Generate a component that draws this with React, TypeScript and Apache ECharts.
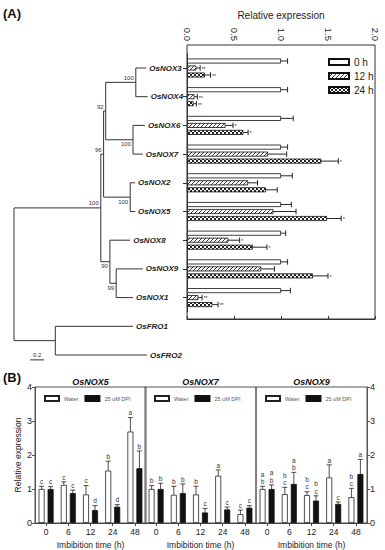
import React, { useEffect, useRef } from 'react';
import * as echarts from 'echarts';

const FONT = 'Arial, "Liberation Sans", sans-serif';

// ---------- Panel A: expression data ----------
const genes = ['OsNOX3', 'OsNOX4', 'OsNOX6', 'OsNOX7', 'OsNOX2', 'OsNOX5', 'OsNOX8', 'OsNOX9', 'OsNOX1'];
const expr0h = [1, 1, 1, 1, 1, 1, 1, 1, 1];
const err0h = [0.07, 0.07, 0.13, 0.07, 0.12, 0.11, 0.05, 0.07, 0.1];
const expr12h = [0.1, 0.08, 0.41, 0.86, 0.65, 0.92, 0.44, 0.79, 0.12];
const err12h = [0.04, 0.03, 0.08, 0.2, 0.1, 0.24, 0.12, 0.14, 0.04];
const expr24h = [0.19, 0.07, 0.6, 1.43, 0.84, 1.49, 0.7, 1.34, 0.27];
const err24h = [0.06, 0.03, 0.05, 0.18, 0.12, 0.15, 0.15, 0.16, 0.06];
const sig0h = ['', '', '', '', '', '', '', '', ''];
const sig12h = ['**', '**', '*', '', '', '', '*', '', '**'];
const sig24h = ['**', '**', '*', '*', '', '*', '*', '*', '**'];
const timeNames = ['0 h', '12 h', '24 h'];

// ---------- Panel A: tree ----------
const treeLeaves = ['OsNOX3', 'OsNOX4', 'OsNOX6', 'OsNOX7', 'OsNOX2', 'OsNOX5', 'OsNOX8', 'OsNOX9', 'OsNOX1', 'OsFRO1', 'OsFRO2'];
const leafDist = [1.89, 1.91, 1.87, 1.84, 1.73, 1.73, 1.66, 1.84, 1.7, 1.7, 1.9];
const nodeNames = ['A', 'B', 'C', 'E', 'D', 'I', 'G', 'F', 'H', 'R'];
const nodeDist = [1.74, 1.7, 1.31, 1.66, 1.28, 1.46, 1.37, 1.24, 0.59, 0];
const nodeChildren = [
  ['OsNOX3', 'OsNOX4'], ['OsNOX6', 'OsNOX7'], ['A', 'B'], ['OsNOX2', 'OsNOX5'], ['C', 'E'],
  ['OsNOX9', 'OsNOX1'], ['OsNOX8', 'I'], ['D', 'G'], ['OsFRO1', 'OsFRO2'], ['F', 'H'],
];
const nodeBootstrap = ['100', '100', '92', '100', '96', '99', '90', '100', '', ''];
const bootstrapBelow = [false, true, false, true, false, true, true, false, false, false];
const scaleBarLength = 0.2;

// ---------- Panel B ----------
const bGenes = ['OsNOX5', 'OsNOX7', 'OsNOX9'];
const times = ['0', '6', '12', '24', '48'];
const nox5Water = [1.0, 1.12, 0.84, 1.54, 2.69];
const nox5WaterErr = [0.08, 0.09, 0.26, 0.28, 0.41];
const nox5WaterSig = ['c', 'c', 'c', 'b', 'a'];
const nox5Dpi = [1.0, 0.88, 0.38, 0.48, 1.61];
const nox5DpiErr = [0.07, 0.09, 0.13, 0.06, 0.51];
const nox5DpiSig = ['c', 'c', 'd', 'd', 'b'];
const nox7Water = [1.0, 0.83, 0.84, 1.39, 0.26];
const nox7WaterErr = [0.1, 0.25, 0.24, 0.17, 0.12];
const nox7WaterSig = ['b', 'b', 'b', 'a', 'c'];
const nox7Dpi = [1.0, 0.88, 0.31, 0.4, 0.45];
const nox7DpiErr = [0.17, 0.27, 0.12, 0.07, 0.06];
const nox7DpiSig = ['b', 'b', 'c', 'c', 'c'];
const nox9Water = [1.0, 0.85, 0.82, 1.34, 0.76];
const nox9WaterErr = [0.08, 0.2, 0.1, 0.37, 0.26];
const nox9WaterSig = ['a\nb', 'b\nc', 'b\nc', 'a', 'b\nc'];
const nox9Dpi = [1.0, 1.15, 0.66, 0.56, 1.44];
const nox9DpiErr = [0.12, 0.34, 0.14, 0.06, 0.43];
const nox9DpiSig = ['a\nb', 'a\nb', 'b\nc', 'c', 'a'];
const yTicksB = [0, 1, 2, 3, 4];

function makeHatch() {
  const c = document.createElement('canvas');
  c.width = 4; c.height = 4;
  const g = c.getContext('2d')!;
  g.fillStyle = '#fff'; g.fillRect(0, 0, 4, 4);
  g.strokeStyle = '#222'; g.lineWidth = 0.9;
  g.beginPath();
  g.moveTo(0, 4); g.lineTo(4, 0);
  g.moveTo(-1, 1); g.lineTo(1, -1);
  g.moveTo(3, 5); g.lineTo(5, 3);
  g.stroke();
  return c;
}
function makeChecker() {
  const c = document.createElement('canvas');
  c.width = 4; c.height = 4;
  const g = c.getContext('2d')!;
  g.fillStyle = '#fff'; g.fillRect(0, 0, 4, 4);
  g.fillStyle = '#222';
  g.fillRect(0, 0, 2, 2); g.fillRect(2, 2, 2, 2);
  return c;
}

export default function App() {
  const ref = useRef<HTMLDivElement>(null);
  useEffect(() => {
    document.body.style.margin = '0';
    const chart = echarts.init(ref.current!, null, { renderer: 'svg' });

    const hatch = { image: makeHatch(), repeat: 'repeat' };
    const checker = { image: makeChecker(), repeat: 'repeat' };

    // tree geometry
    const pos = (name: string): { x: number; y: number } => {
      const li = treeLeaves.indexOf(name);
      if (li >= 0) return { x: leafDist[li], y: li };
      const ni = nodeNames.indexOf(name);
      const ch = nodeChildren[ni].map(pos);
      return { x: nodeDist[ni], y: (ch[0].y + ch[ch.length - 1].y) / 2 };
    };

    const treeRender = (params: any, api: any) => {
      const els: any[] = [];
      const ln = (a: number[], b: number[]) => {
        const p = api.coord(a), q = api.coord(b);
        els.push({ type: 'line', shape: { x1: p[0], y1: p[1], x2: q[0], y2: q[1] }, style: { stroke: '#333', lineWidth: 1 } });
      };
      nodeNames.forEach((n, i) => {
        const np = pos(n);
        const ch = nodeChildren[i].map(pos);
        ln([np.x, ch[0].y], [np.x, ch[ch.length - 1].y]);
        ch.forEach((c) => ln([np.x, c.y], [c.x, c.y]));
        if (nodeBootstrap[i]) {
          const p = api.coord([np.x, np.y]);
          els.push({
            type: 'text', x: p[0] - 2, y: bootstrapBelow[i] ? p[1] + 1.5 : p[1] - 1.5,
            style: { text: nodeBootstrap[i], fontSize: 6, fontFamily: FONT, fill: '#333', align: 'right', verticalAlign: bootstrapBelow[i] ? 'top' : 'bottom' },
          });
        }
      });
      treeLeaves.forEach((n, i) => {
        const p = api.coord([leafDist[i], i]);
        els.push({
          type: 'text', x: p[0] + 3, y: p[1],
          style: { text: n, fontSize: 8, fontWeight: 'bold', fontStyle: 'italic', fontFamily: FONT, fill: '#222', align: 'left', verticalAlign: 'middle' },
        });
      });
      // scale bar
      const s0 = api.coord([0.23, 10.17]), s1 = api.coord([0.23 + scaleBarLength, 10.17]);
      els.push({ type: 'line', shape: { x1: s0[0], y1: s0[1], x2: s1[0], y2: s1[1] }, style: { stroke: '#333', lineWidth: 1 } });
      els.push({ type: 'text', x: (s0[0] + s1[0]) / 2, y: s0[1] - 2, style: { text: String(scaleBarLength), fontSize: 6, fontFamily: FONT, fill: '#333', align: 'center', verticalAlign: 'bottom' } });
      return { type: 'group', children: els };
    };

    // top error bars
    const topVals = [expr0h, expr12h, expr24h];
    const topErrs = [err0h, err12h, err24h];
    const topSigs = [sig0h, sig12h, sig24h];
    const topErr: any[] = [];
    topVals.forEach((vals, s) => vals.forEach((v, i) => topErr.push({ cat: i, v, e: topErrs[s][i], sig: topSigs[s][i], off: (s - 1) * 7 })));
    const topErrRender = (params: any, api: any) => {
      const d = topErr[params.dataIndex];
      const a = api.coord([d.v, d.cat]);
      const b = api.coord([d.v + d.e, d.cat]);
      const y = a[1] + d.off;
      const children: any[] = [
        { type: 'line', shape: { x1: a[0], y1: y, x2: b[0], y2: y }, style: { stroke: '#111', lineWidth: 0.9 } },
        { type: 'line', shape: { x1: b[0], y1: y - 2.8, x2: b[0], y2: y + 2.8 }, style: { stroke: '#111', lineWidth: 0.9 } },
      ];
      if (d.sig) {
        children.push({
          type: 'text', x: b[0] + 1.5, y: y + 0.8,
          style: { text: d.sig, fontSize: 5, fontFamily: FONT, fill: '#222', align: 'left', verticalAlign: 'middle' },
        });
      }
      return { type: 'group', children };
    };

    // bottom panels
    const panelLefts = [35, 145, 256];
    const panelWidth = 111;
    const panelTop = 387;
    const panelHeight = 136;
    const panelData = [
      { w: nox5Water, we: nox5WaterErr, ws: nox5WaterSig, d: nox5Dpi, de: nox5DpiErr, ds: nox5DpiSig },
      { w: nox7Water, we: nox7WaterErr, ws: nox7WaterSig, d: nox7Dpi, de: nox7DpiErr, ds: nox7DpiSig },
      { w: nox9Water, we: nox9WaterErr, ws: nox9WaterSig, d: nox9Dpi, de: nox9DpiErr, ds: nox9DpiSig },
    ];

    const grids: any[] = [
      { left: 187, top: 53.65, width: 188, height: 258.3, outerBoundsMode: 'none' },
      { left: 187, top: 45, width: 188, height: 274, show: true, borderColor: '#333', borderWidth: 1, backgroundColor: 'transparent', outerBoundsMode: 'none' },
      { left: 14, top: 68, width: 168, height: 287, outerBoundsMode: 'none' },
    ];
    const xAxes: any[] = [
      { gridIndex: 0, type: 'value', min: 0, max: 2, show: false },
      {
        gridIndex: 1, type: 'value', position: 'top', min: 0, max: 2, interval: 0.5,
        name: 'Relative expression', nameLocation: 'middle', nameGap: 25,
        nameTextStyle: { fontSize: 10, color: '#222', fontFamily: FONT },
        axisLine: { show: true, lineStyle: { color: '#333' } },
        axisTick: { show: true, length: 3, lineStyle: { color: '#333' } },
        axisLabel: { rotate: -90, fontSize: 9.5, color: '#222', margin: 4, fontFamily: FONT, formatter: (v: number) => v.toFixed(1) },
        splitLine: { show: false },
      },
      { gridIndex: 2, type: 'value', min: 0, max: 2.4, show: false },
    ];
    const yAxes: any[] = [
      {
        gridIndex: 0, type: 'category', data: genes, inverse: true,
        axisLine: { show: true, lineStyle: { color: '#333' } },
        axisTick: { show: true, alignWithLabel: true, length: 4, lineStyle: { color: '#333' } },
        axisLabel: { show: false },
      },
      { gridIndex: 1, type: 'value', min: 0, max: 1, show: false },
      { gridIndex: 2, type: 'value', min: 0, max: 10, inverse: true, show: false },
    ];
    const series: any[] = [
      { type: 'bar', name: timeNames[0], xAxisIndex: 0, yAxisIndex: 0, data: expr0h, barWidth: 5, barGap: '40%', itemStyle: { color: '#fff', borderColor: '#111', borderWidth: 0.8 } },
      { type: 'bar', name: timeNames[1], xAxisIndex: 0, yAxisIndex: 0, data: expr12h, barWidth: 5, barGap: '40%', itemStyle: { color: hatch, borderColor: '#111', borderWidth: 0.8 } },
      { type: 'bar', name: timeNames[2], xAxisIndex: 0, yAxisIndex: 0, data: expr24h, barWidth: 5, barGap: '40%', itemStyle: { color: checker, borderColor: '#111', borderWidth: 0.8 } },
      { type: 'custom', xAxisIndex: 0, yAxisIndex: 0, data: topErr.map((d) => [d.v, d.cat]), renderItem: topErrRender, z: 5, silent: true },
      { type: 'custom', xAxisIndex: 2, yAxisIndex: 2, data: [[0, 0]], renderItem: treeRender, silent: true, clip: false },
    ];
    const legends: any[] = [
      {
        data: timeNames, orient: 'vertical', left: 323, top: 52, itemWidth: 20, itemHeight: 6, itemGap: 4,
        icon: 'rect', selectedMode: false, textStyle: { fontSize: 10, color: '#222', fontFamily: FONT },
      },
    ];
    const graphics: any[] = [
      { type: 'text', x: 3, y: 13, style: { text: '(A)', fontSize: 13, fontWeight: 'bold', fontFamily: FONT, fill: '#111', verticalAlign: 'middle' } },
      { type: 'text', x: 3, y: 377, style: { text: '(B)', fontSize: 13, fontWeight: 'bold', fontFamily: FONT, fill: '#111', verticalAlign: 'middle' } },
    ];

    panelData.forEach((pd, p) => {
      const gi = 3 + p;
      grids.push({ left: panelLefts[p], top: panelTop, width: panelWidth, height: panelHeight, show: true, borderColor: '#555', borderWidth: 1, backgroundColor: 'transparent', outerBoundsMode: 'none' });
      xAxes.push({
        gridIndex: gi, type: 'category', data: times,
        name: 'Imbibition time (h)', nameLocation: 'middle', nameGap: 17,
        nameTextStyle: { fontSize: 8.5, color: '#222', fontFamily: FONT },
        axisLine: { show: true, lineStyle: { color: '#444' } },
        axisTick: { show: true, alignWithLabel: true, length: 3, lineStyle: { color: '#444' } },
        axisLabel: { fontSize: 8.5, color: '#222', margin: 4, fontFamily: FONT },
      });
      const showY = p !== 1;
      yAxes.push({
        gridIndex: gi, type: 'value', min: yTicksB[0], max: yTicksB[yTicksB.length - 1], interval: 1,
        position: p === 2 ? 'right' : 'left',
        name: p === 0 ? 'Relative expression' : '', nameLocation: 'middle', nameGap: 13,
        nameTextStyle: { fontSize: 8.6, color: '#222', fontFamily: FONT },
        axisLine: { show: showY, lineStyle: { color: '#555' } },
        axisTick: { show: showY, length: 3, lineStyle: { color: '#555' } },
        axisLabel: { show: showY, fontSize: 9, color: '#222', margin: 3, fontFamily: FONT },
        splitLine: { show: false },
      });
      series.push(
        { type: 'bar', name: 'Water', xAxisIndex: gi, yAxisIndex: gi, data: pd.w, barWidth: 6, barGap: '50%', itemStyle: { color: '#fff', borderColor: '#222', borderWidth: 0.8 } },
        { type: 'bar', name: '25 uM DPI', xAxisIndex: gi, yAxisIndex: gi, data: pd.d, barWidth: 6, barGap: '50%', itemStyle: { color: '#111', borderColor: '#111', borderWidth: 0.8 } },
      );
      const items: any[] = [];
      pd.w.forEach((v, i) => items.push({ cat: i, v, e: pd.we[i], sig: pd.ws[i], off: -4.5 }));
      pd.d.forEach((v, i) => items.push({ cat: i, v, e: pd.de[i], sig: pd.ds[i], off: 4.5 }));
      series.push({
        type: 'custom', xAxisIndex: gi, yAxisIndex: gi, silent: true, z: 5, clip: false,
        data: items.map((d) => [d.cat, d.v]),
        renderItem: (params: any, api: any) => {
          const d = items[params.dataIndex];
          const a = api.coord([d.cat, d.v]);
          const b = api.coord([d.cat, d.v + d.e]);
          const x = a[0] + d.off;
          return {
            type: 'group',
            children: [
              { type: 'line', shape: { x1: x, y1: a[1], x2: x, y2: b[1] }, style: { stroke: '#222', lineWidth: 0.8 } },
              { type: 'line', shape: { x1: x - 2.5, y1: b[1], x2: x + 2.5, y2: b[1] }, style: { stroke: '#222', lineWidth: 0.8 } },
              { type: 'text', x, y: b[1] - 1, style: { text: d.sig, fontSize: 6.5, lineHeight: 7.5, fontFamily: FONT, fill: '#333', align: 'center', verticalAlign: 'bottom' } },
            ],
          };
        },
      });
      legends.push({
        data: ['Water', '25 uM DPI'], left: panelLefts[p] + 4, top: 390, itemWidth: 14, itemHeight: 5, itemGap: 6,
        icon: 'rect', selectedMode: false, textStyle: { fontSize: 5.5, color: '#555', fontFamily: FONT },
      });
      graphics.push({
        type: 'text', x: panelLefts[p] + panelWidth / 2, y: 382,
        style: { text: bGenes[p], fontSize: 9, fontWeight: 'bold', fontStyle: 'italic', fontFamily: FONT, fill: '#111', align: 'center', verticalAlign: 'middle' },
      });
    });

    chart.setOption({
      animation: false,
      backgroundColor: '#fff',
      textStyle: { fontFamily: FONT },
      grid: grids,
      xAxis: xAxes,
      yAxis: yAxes,
      legend: legends,
      series,
      graphic: graphics,
    });
    return () => chart.dispose();
  }, []);
  return <div ref={ref} style={{ width: 385, height: 550 }} />;
}
